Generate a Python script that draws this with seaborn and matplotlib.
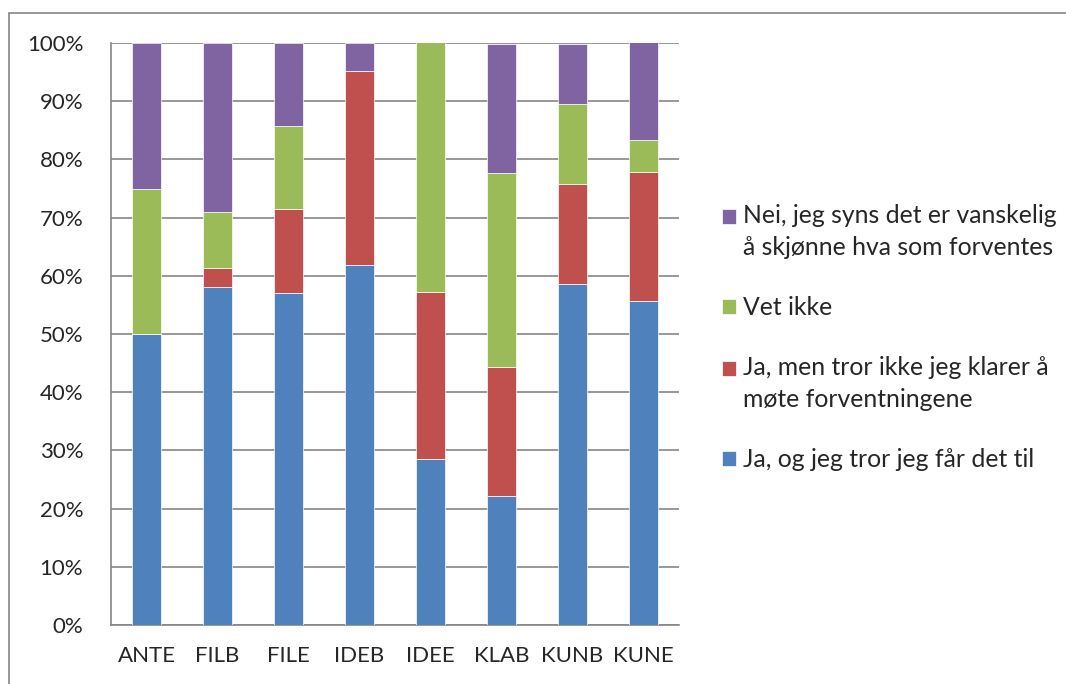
import matplotlib
matplotlib.use('Agg')
import matplotlib.pyplot as plt
import seaborn as sns
import numpy as np
from matplotlib.patches import Rectangle

# Data (percent of respondents per programme)
categories = ['ANTE', 'FILB', 'FILE', 'IDEB', 'IDEE', 'KLAB', 'KUNB', 'KUNE']
ja_klarer = [50.0, 58.1, 57.1, 61.9, 28.6, 22.2, 58.6, 55.6]
ja_men = [0.0, 3.2, 14.3, 33.3, 28.6, 22.2, 17.2, 22.2]
vet_ikke = [25.0, 9.7, 14.3, 0.0, 42.9, 33.3, 13.8, 5.6]
nei = [25.0, 29.0, 14.3, 4.8, 0.0, 22.2, 10.3, 16.7]

series = [
    ('Ja, og jeg tror jeg får det til', ja_klarer, '#4F81BD'),
    ('Ja, men tror ikke jeg klarer å\nmøte forventningene', ja_men, '#C0504D'),
    ('Vet ikke', vet_ikke, '#9BBB59'),
    ('Nei, jeg syns det er vanskelig\nå skjønne hva som forventes', nei, '#8064A2'),
]

sns.set_style('white')
plt.rcParams['font.family'] = ['Lato', 'DejaVu Sans']

fig = plt.figure(figsize=(10.66, 6.84), dpi=100)
ax = fig.add_axes([111 / 1066, 59 / 684, 568 / 1066, 582 / 684])

grid_col = '#868686'
bottom = np.zeros(len(categories))
for name, vals, col in series:
    sns.barplot(x=categories, y=vals, bottom=bottom, color=col, width=0.4, saturation=1,
                label=name, ax=ax, edgecolor='white', linewidth=0.5, zorder=3)
    bottom = bottom + np.array(vals)

ax.set_ylim(0, 100)
ax.set_xlim(-0.5, len(categories) - 0.5)
ax.set_yticks(np.arange(0, 101, 10))
ax.set_yticklabels([f'{v}%' for v in range(0, 101, 10)])
ax.yaxis.grid(True, color=grid_col, linewidth=1.2, zorder=0)
ax.set_axisbelow(True)

fs = 16
ax.set_xticks(np.arange(-0.5, len(categories), 1.0), minor=True)
ax.tick_params(axis='x', which='major', length=0, pad=15, labelsize=fs)
ax.tick_params(axis='x', which='minor', length=8, color=grid_col, width=1.2, direction='out')
ax.tick_params(axis='y', length=6, color=grid_col, width=1.2, direction='out', pad=14, labelsize=fs)

for s in ['top', 'right']:
    ax.spines[s].set_visible(False)
for s in ['left', 'bottom']:
    ax.spines[s].set_color(grid_col)
    ax.spines[s].set_linewidth(1.2)

lfs = 17.8
lsp = 1.49
handles, labels = ax.get_legend_handles_labels()
leg = ax.legend(handles[::-1], labels[::-1], loc='center left', bbox_to_anchor=(1.076, 0.494),
                frameon=False, fontsize=lfs, handlelength=0.56, handleheight=0.56,
                handletextpad=0.3, labelspacing=1.5, borderpad=0, borderaxespad=0)
for t in leg.get_texts():
    t.set_linespacing(lsp)
# put the marker next to the first line of a wrapped label
for h, lab in zip(leg.legend_handles, labels[::-1]):
    if '\n' in lab:
        h.set_y(h.get_y() + lsp * 7.6)

fig.add_artist(Rectangle((9 / 1066, -0.02), 1.1, 1 - 13 / 684 + 0.02,
                         transform=fig.transFigure, fill=False,
                         edgecolor=grid_col, linewidth=1.2))

fig.savefig('out.png', dpi=100)
